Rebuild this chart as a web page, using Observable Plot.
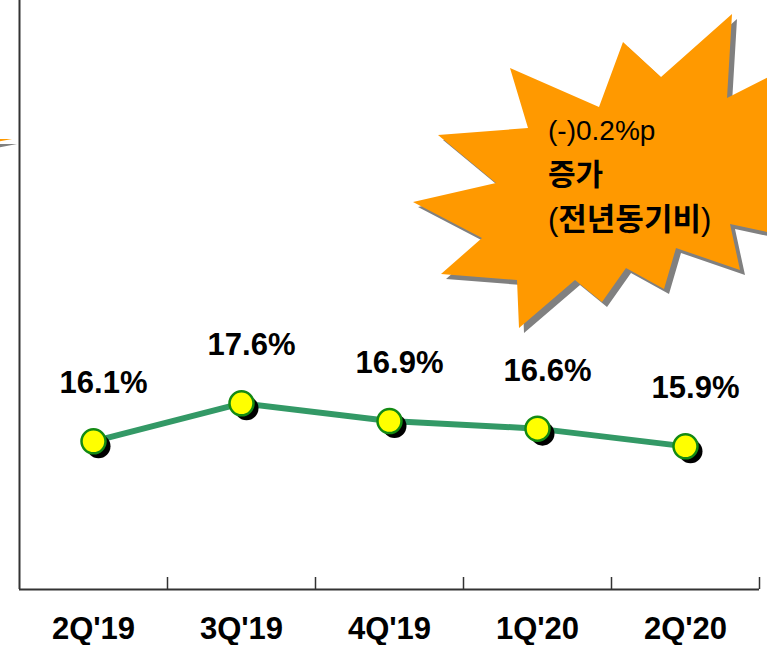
<!DOCTYPE html>
<html>
<head>
<meta charset="utf-8">
<script src="https://cdn.jsdelivr.net/npm/d3@7"></script>
<script src="https://cdn.jsdelivr.net/npm/@observablehq/plot@0.6"></script>
<style>
  html, body { margin: 0; padding: 0; background: #fff; }
  #chart { width: 767px; height: 645px; overflow: hidden; }
</style>
</head>
<body>
<div id="chart"></div>
<script>
// ---- data ----
const categories = ["2Q'19", "3Q'19", "4Q'19", "1Q'20", "2Q'20"];
const values = [16.1, 17.6, 16.9, 16.6, 15.9];
const valueLabels = ["16.1%", "17.6%", "16.9%", "16.6%", "15.9%"];
const calloutLines = ["(-)0.2%p", "증가", "전년동기비"];

// ---- layout ----
const W = 767, H = 645;
const mL = 19, mR = 8, mT = 0, mB = 56;
const yDomain = [10.25, 33.5];
const bw = (W - mL - mR) / categories.length;
const pxPerUnit = (H - mT - mB) / (yDomain[1] - yDomain[0]);

const data = categories.map((c, i) => ({cat: c, val: values[i], label: valueLabels[i]}));

const svg = Plot.plot({
  width: W, height: H,
  marginLeft: mL, marginRight: mR, marginTop: mT, marginBottom: mB,
  x: {type: "band", domain: categories, padding: 0, label: null},
  y: {domain: yDomain, axis: null},
  style: {background: "white", color: "black", fontFamily: "'Liberation Sans', Arial, sans-serif"},
  marks: [
    Plot.ruleX([categories[0]], {x: d => d, dx: -bw / 2, stroke: "#333", strokeWidth: 2}),
    Plot.ruleY([yDomain[0]], {stroke: "#333", strokeWidth: 2}),
    Plot.ruleX(categories, {x: d => d, dx: bw / 2, y1: yDomain[0], y2: yDomain[0] + 12 / pxPerUnit, stroke: "#333", strokeWidth: 1.5}),
    Plot.axisX({tickSize: 0, tickPadding: 27, fontSize: 31, fontWeight: "bold", fill: "black"}),
    Plot.line(data, {x: "cat", y: "val", stroke: "#339966", strokeWidth: 6}),
    Plot.dot(data, {x: "cat", y: "val", r: 12, fill: "black", dx: 5, dy: 5}),
    Plot.dot(data, {x: "cat", y: "val", r: 12, fill: "#ffff00", stroke: "#138a13", strokeWidth: 2.5}),
    Plot.text(data, {x: "cat", y: "val", text: "label", dx: 10, dy: -58, fontSize: 31, fontWeight: "bold", fill: "black"})
  ]
});

document.getElementById("chart").appendChild(svg);

// ---- decorative callout starburst (annotation, pixel space) ----
const burst = [
  [732, 14], [727, 98], [800, 61], [800, 239], [730, 224], [740, 270], [676, 248],
  [664, 289], [626, 268], [602, 302], [575, 280], [519, 328], [517, 280],
  [441, 274], [482, 238], [413, 202], [496, 183], [438, 135], [528, 128],
  [510, 68], [599, 107], [623, 42], [661, 77]
];
const leftSpike = [[-30, 139], [12, 139], [-30, 147]];

const sel = d3.select(svg);
const deco = sel.insert("g", ":first-child");
const poly = pts => pts.map(p => p.join(",")).join(" ");
[burst, leftSpike].forEach(pts => {
  deco.append("polygon").attr("points", poly(pts)).attr("fill", "#808080").attr("transform", "translate(5,5)");
  deco.append("polygon").attr("points", poly(pts)).attr("fill", "#ff9900");
});
const tg = sel.append("g").attr("fill", "black").attr("text-anchor", "start");
tg.append("text").attr("x", 548).attr("y", 140)
  .attr("font-family", "'Liberation Sans', Arial, sans-serif").attr("font-size", 28)
  .text(calloutLines[0]);
tg.append("text").attr("x", 548).attr("y", 185)
  .attr("font-family", "'Noto Sans CJK KR', sans-serif").attr("font-size", 30).attr("font-weight", "bold")
  .text(calloutLines[1]);
const t3 = tg.append("text").attr("x", 548).attr("y", 230).attr("font-size", 31);
t3.append("tspan").attr("font-family", "'Liberation Sans', Arial, sans-serif").text("(");
t3.append("tspan").attr("font-family", "'Noto Sans CJK KR', sans-serif").attr("font-weight", "bold").text(calloutLines[2]);
t3.append("tspan").attr("font-family", "'Liberation Sans', Arial, sans-serif").text(")");
</script>
</body>
</html>
